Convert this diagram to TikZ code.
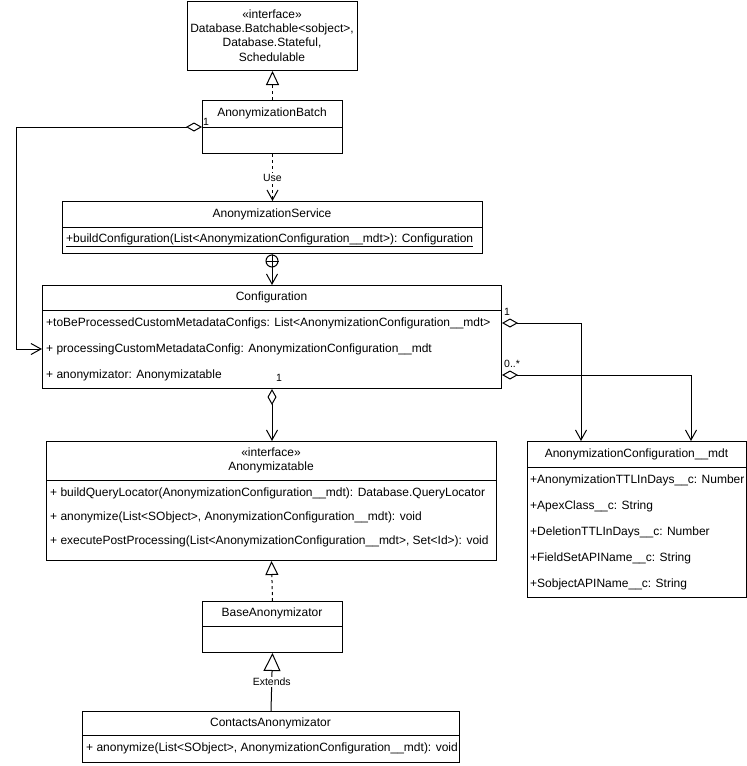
\documentclass[tikz,border=0pt]{standalone}
\usepackage{fontspec}
\setmainfont{Liberation Sans}
\usetikzlibrary{arrows.meta,calc}
\tikzset{
    lab/.style={
        font=\fontsize{12}{14.3}\selectfont
    },
    small/.style={
        font=\fontsize{10.5}{12}\selectfont, inner sep=1pt
    },
    mem/.style={lab, anchor=west, inner sep=0pt},
    cls/.style={draw, line width=1pt, inner sep=0pt, anchor=north west},
    link/.style={line width=1pt},
    realize/.style={link, dash pattern=on 3pt off 3pt,
        -{Triangle[open, length=14pt, width=13pt]}},
    extend/.style={link, -{Triangle[open, length=18pt, width=17pt]}},
    use/.style={link, dash pattern=on 3pt off 3pt,
        -{Straight Barb[length=10pt, width=11pt]}},
    assoc/.style={link, -{Straight Barb[length=10pt, width=11pt]}},
    aggr/.style={link,
        {Diamond[open, length=16pt, width=9pt]}-{Straight Barb[length=10pt, width=11pt]}}
}

\begin{document}
\begin{tikzpicture}[x=1pt,y=-1pt,line join=miter]

% --- canvas ---
    \useasboundingbox (0,0) rectangle (747,766);

% interface on top
    \node[cls, minimum width=170pt, minimum height=69pt] (iface) at (187,1) {};
    \node[lab, align=center] (ifaceTxt) at (272,35.5)
        {«interface»\\Database.Batchable<sobject>,\\Database.Stateful,\\Schedulable};

% batch class
    \node[cls, minimum width=140pt, minimum height=53pt] (batch) at (202,100) {};
    \draw[link] ($(batch.north west)+(0,27)$) -- ($(batch.north east)+(0,27)$);
    \node[lab] (batchT) at (272,113.5) {AnonymizationBatch};

% service class
    \node[cls, minimum width=420pt, minimum height=52pt] (service) at (62,201) {};
    \draw[link] ($(service.north west)+(0,26)$) -- ($(service.north east)+(0,26)$);
    \node[lab] (serviceT) at (272,214) {AnonymizationService};
    \node[mem] (svcM1) at (66,240)
        {\underline{+buildConfiguration(List<AnonymizationConfiguration\_\_mdt>): Configuration}};

% configuration class
    \node[cls, minimum width=459pt, minimum height=103pt] (config) at (42,285) {};
    \draw[link] ($(config.north west)+(0,25)$) -- ($(config.north east)+(0,25)$);
    \node[lab] (configT) at (271.5,297.5) {Configuration};
    \node[mem] (cfgM1) at (46,323)
        {+toBeProcessedCustomMetadataConfigs: List<AnonymizationConfiguration\_\_mdt>};
    \node[mem] (cfgM2) at (46,349)
        {+ processingCustomMetadataConfig: AnonymizationConfiguration\_\_mdt};
    \node[mem] (cfgM3) at (46,375) {+ anonymizator: Anonymizatable};

% anonymizatable interface
    \node[cls, minimum width=450pt, minimum height=119pt] (anonIf) at (46,441) {};
    \draw[link] ($(anonIf.north west)+(0,39)$) -- ($(anonIf.north east)+(0,39)$);
    \node[lab, align=center] (anonIfT) at (271,460.5) {«interface»\\Anonymizatable};
    \node[mem] (ifM1) at (50,493)
        {+ buildQueryLocator(AnonymizationConfiguration\_\_mdt): Database.QueryLocator};
    \node[mem] (ifM2) at (50,517)
        {+ anonymize(List<SObject>, AnonymizationConfiguration\_\_mdt): void};
    \node[mem] (ifM3) at (50,541)
        {+ executePostProcessing(List<AnonymizationConfiguration\_\_mdt>, Set<Id>): void};

% custom metadata type
    \node[cls, minimum width=219pt, minimum height=156pt] (anonCfg) at (527,441) {};
    \draw[link] ($(anonCfg.north west)+(0,26)$) -- ($(anonCfg.north east)+(0,26)$);
    \node[lab] (anonCfgT) at (636.5,454) {AnonymizationConfiguration\_\_mdt};
    \begin{scope}
        \clip (anonCfg.north west) rectangle (anonCfg.south east);
        \node[mem] (mdtM1) at (530,480) {+AnonymizationTTLInDays\_\_c: Number};
        \node[mem] (mdtM2) at (530,506) {+ApexClass\_\_c: String};
        \node[mem] (mdtM3) at (530,532) {+DeletionTTLInDays\_\_c: Number};
        \node[mem] (mdtM4) at (530,558) {+FieldSetAPIName\_\_c: String};
        \node[mem] (mdtM5) at (530,584) {+SobjectAPIName\_\_c: String};
    \end{scope}

% base class
    \node[cls, minimum width=140pt, minimum height=51pt] (base) at (202,601) {};
    \draw[link] ($(base.north west)+(0,25)$) -- ($(base.north east)+(0,25)$);
    \node[lab] (baseT) at (272,613.5) {BaseAnonymizator};

% contacts class
    \node[cls, minimum width=377pt, minimum height=51pt] (contacts) at (82,711) {};
    \draw[link] ($(contacts.north west)+(0,24)$) -- ($(contacts.north east)+(0,24)$);
    \node[lab] (contactsT) at (270.5,723) {ContactsAnonymizator};
    \node[mem] (ctM1) at (86,748.5)
        {+ anonymize(List<SObject>, AnonymizationConfiguration\_\_mdt): void};

% --- connectors ---
    \draw[realize] (batch.north) -- (iface.south);
    \draw[aggr] (batch.west) -- ++(-186,0) |- (config.west |- cfgM2);
    \node[small, anchor=south west] (mBatch) at (batch.west) {1};

    \draw[use] (batch.south) -- node[small, fill=white] (useLab) {Use} (service.north);

    \node[circle, draw, line width=1pt, minimum size=12pt, inner sep=0pt] (nest) at (272,261) {};
    \draw[link] (nest.north) -- (nest.south) (nest.west) -- (nest.east);
    \draw[link] (service.south) -- (nest.north);
    \draw[assoc] (nest.south) -- (nest.south |- config.north);

    \draw[aggr] (config.south) -- (config.south |- anonIf.north);
    \node[small] (mCfg) at (279,378) {1};

    \coordinate (in1) at ($(anonCfg.north west)+(54,0)$);
    \coordinate (in2) at ($(anonCfg.north west)+(164,0)$);
    \draw[aggr] (config.east |- cfgM1) -| (in1);
    \draw[aggr] (config.east |- cfgM3) -| (in2);
    \node[small, anchor=south west] (mOne) at ($(config.east |- cfgM1)+(1,-6)$) {1};
    \node[small, anchor=south west] (mMany) at ($(config.east |- cfgM3)+(1,-6)$) {0..*};

    \draw[realize] (base.north) -- (anonIf.south);
    \draw[extend] (contacts.north) -- node[small, fill=white] (extLab) {Extends} (base.south);

\end{tikzpicture}
\end{document}
